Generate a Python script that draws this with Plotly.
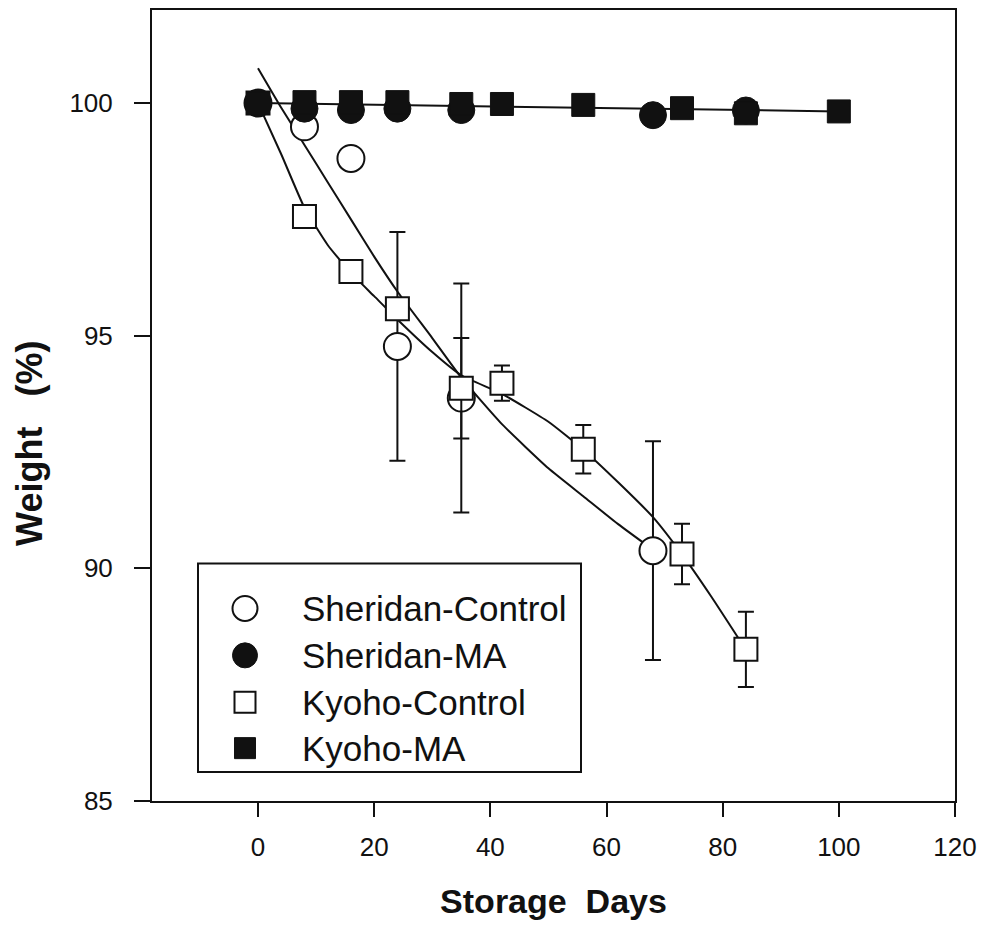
import plotly.graph_objects as go

# ---------------- data ----------------
series_names = ["Sheridan-Control", "Sheridan-MA", "Kyoho-Control", "Kyoho-MA"]

sc_days = [0, 8, 16, 24, 35, 68]
sc_weight = [100.0, 99.49, 98.81, 94.77, 93.66, 90.38]
sc_err = [0, 0, 0, 2.46, 2.46, 2.35]

sma_days = [0, 8, 16, 24, 35, 68, 84]
sma_weight = [100.0, 99.88, 99.85, 99.88, 99.85, 99.74, 99.84]

kc_days = [0, 8, 16, 24, 35, 42, 56, 73, 84]
kc_weight = [100.0, 97.56, 96.38, 95.58, 93.87, 93.98, 92.56, 90.31, 88.26]
kc_err = [0, 0, 0, 0, 1.08, 0.38, 0.52, 0.65, 0.81]

kma_days = [0, 8, 16, 24, 35, 42, 56, 73, 84, 100]
kma_weight = [100.0, 100.02, 100.02, 100.02, 99.98, 99.98, 99.96, 99.89, 99.78, 99.82]

# fitted curves as drawn in the reference
fit_sc_days = [0, 4, 8, 12, 16, 20, 24, 30, 35, 42, 50, 56, 62, 68]
fit_sc_weight = [100.75, 99.9, 99.1, 98.3, 97.5, 96.7, 95.95, 94.95, 94.1, 93.1, 92.15, 91.55, 90.95, 90.4]

fit_kc_days = [0, 4, 8, 12, 16, 20, 24, 30, 35, 42, 50, 56, 62, 68, 73, 78, 84]
fit_kc_weight = [100.0, 98.9, 97.75, 96.95, 96.35, 95.85, 95.35, 94.65, 94.15, 93.75, 93.15, 92.55,
                 91.85, 91.1, 90.3, 89.4, 88.25]

fit_ma_days = [0, 100]
fit_ma_weight = [100.0, 99.82]

x_ticks = [0, 20, 40, 60, 80, 100, 120]
y_ticks = [85, 90, 95, 100]

# ---------------- figure ----------------
BLACK = "#111111"
FONT = "Liberation Sans, Arial, sans-serif"

fig = go.Figure()

for dx, dy in [(fit_sc_days, fit_sc_weight), (fit_kc_days, fit_kc_weight), (fit_ma_days, fit_ma_weight)]:
    fig.add_trace(go.Scatter(x=dx, y=dy, mode="lines",
                             line=dict(color=BLACK, width=2, shape="spline", smoothing=0.5),
                             showlegend=False, hoverinfo="skip"))

err_style = dict(type="data", visible=True, color=BLACK, thickness=2, width=8)

fig.add_trace(go.Scatter(
    x=sc_days, y=sc_weight, mode="markers", name=series_names[0],
    marker=dict(symbol="circle", size=27, color="white", line=dict(color=BLACK, width=2)),
    error_y=dict(array=sc_err, **err_style), showlegend=False))

fig.add_trace(go.Scatter(
    x=kc_days, y=kc_weight, mode="markers", name=series_names[2],
    marker=dict(symbol="square", size=23, color="white", line=dict(color=BLACK, width=2)),
    error_y=dict(array=kc_err, **err_style), showlegend=False))

fig.add_trace(go.Scatter(
    x=sma_days, y=sma_weight, mode="markers", name=series_names[1],
    marker=dict(symbol="circle", size=27, color=BLACK, line=dict(color=BLACK, width=1)),
    showlegend=False))

fig.add_trace(go.Scatter(
    x=kma_days, y=kma_weight, mode="markers", name=series_names[3],
    marker=dict(symbol="square", size=23, color=BLACK, line=dict(color=BLACK, width=1)),
    showlegend=False))

# ---------------- custom legend ----------------
L, R, T, B = 152, 955, 8, 801
W, H = R - L, B - T
def px(xp):
    return (xp - L) / W
def py(yp):
    return (B - yp) / H

fig.add_shape(type="rect", xref="paper", yref="paper",
              x0=px(198), x1=px(581), y0=py(772), y1=py(563),
              line=dict(color=BLACK, width=2), fillcolor="white", layer="below")

legend_rows = [608, 655, 702, 748]
legend_markers = [
    dict(symbol="circle", size=25, color="white", line=dict(color=BLACK, width=2)),
    dict(symbol="circle", size=25, color=BLACK, line=dict(color=BLACK, width=1)),
    dict(symbol="square", size=21, color="white", line=dict(color=BLACK, width=2)),
    dict(symbol="square", size=21, color=BLACK, line=dict(color=BLACK, width=1)),
]
for name, row, mk in zip(series_names, legend_rows, legend_markers):
    fig.add_trace(go.Scatter(x=[px(245)], y=[py(row)], xaxis="x2", yaxis="y2", mode="markers",
                             marker=mk, showlegend=False, hoverinfo="skip"))
    fig.add_annotation(x=px(300), y=py(row), xref="paper", yref="paper", text=name,
                       showarrow=False, xanchor="left", yanchor="middle",
                       font=dict(family=FONT, size=35, color=BLACK))

# y-axis title placed as in the reference (slightly below plot centre)
fig.add_annotation(x=px(30), y=py(443), xref="paper", yref="paper",
                   text="<b>Weight&nbsp;&nbsp; (%)</b>", textangle=-90, showarrow=False,
                   xanchor="center", yanchor="middle",
                   font=dict(family=FONT, size=36, color=BLACK))

axis_common = dict(showgrid=False, zeroline=False, showline=True, linecolor=BLACK, linewidth=2,
                   mirror=True, ticks="outside", tickcolor=BLACK, tickwidth=2,
                   tickfont=dict(family=FONT, size=26, color=BLACK))

fig.update_layout(
    width=986, height=928,
    margin=dict(l=L, r=986 - R, t=T, b=928 - B),
    paper_bgcolor="white", plot_bgcolor="white",
    showlegend=False,
    xaxis=dict(range=[-18.25, 120], tickvals=x_ticks, ticklen=14, ticklabelstandoff=8,
               title=dict(text="<b>Storage&nbsp; Days</b>", font=dict(family=FONT, size=34, color=BLACK),
                          standoff=28),
               **axis_common),
    yaxis=dict(range=[85, 102], tickvals=y_ticks, ticklen=16, ticklabelstandoff=16,
               **axis_common),
    xaxis2=dict(domain=[0, 1], range=[0, 1], overlaying="x", visible=False, fixedrange=True),
    yaxis2=dict(domain=[0, 1], range=[0, 1], overlaying="y", visible=False, fixedrange=True),
)

fig.write_html("out.html")
